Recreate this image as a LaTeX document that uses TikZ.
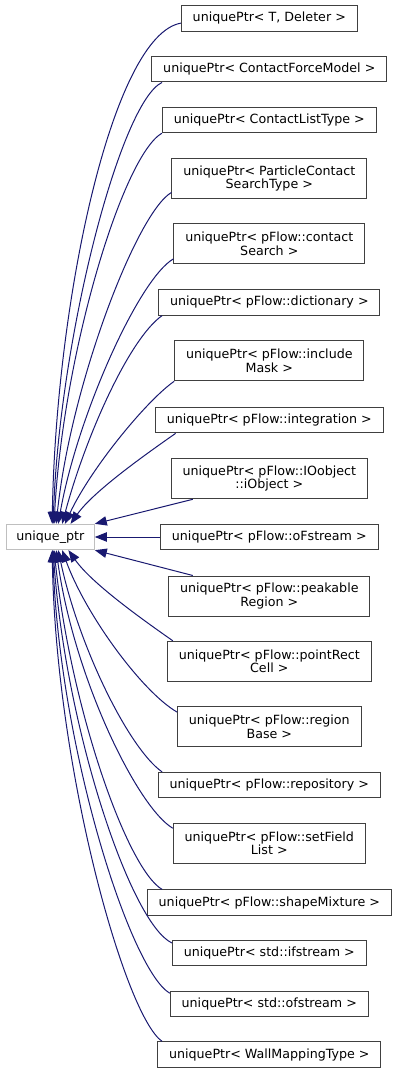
\documentclass[tikz,border=0pt]{standalone}
\usepackage{fontspec}
\setmainfont{DejaVu Sans}
\usetikzlibrary{arrows.meta}
\definecolor{edgeblue}{RGB}{25,25,112}
\definecolor{boxline}{RGB}{64,64,64}

\begin{document}
\begin{tikzpicture}[x=0.75pt, y=0.75pt, >={Triangle[length=9pt,width=7pt]},
  cls/.style={draw=boxline, line width=0.75pt, fill=white, inner xsep=8.5pt, inner ysep=0pt,
              minimum height=19pt, align=center, font=\fontsize{9.5}{10}\selectfont},
  dcls/.style={cls, minimum height=30pt},
  basecls/.style={cls, draw=black!25, inner xsep=7.5pt},
  inh/.style={->, draw=edgeblue, line width=0.75pt}]
  \useasboundingbox (0,0) rectangle (400,-1073);
  % base class
  \node[basecls] (uptr) at (50.3,-537) {unique\_ptr};
  % derived classes, upper half
  \node[cls]  (tdel)    at (269.3,-18.5)  {uniquePtr< T, Deleter >};
  \node[cls]  (cfm)     at (269.3,-69.3)  {uniquePtr< ContactForceModel >};
  \node[cls]  (clt)     at (269.3,-120)   {uniquePtr< ContactListType >};
  \node[dcls] (pcst)    at (269.3,-178.7) {uniquePtr< ParticleContact\\SearchType >};
  \node[dcls] (csearch) at (269.3,-243.7) {uniquePtr< pFlow::contact\\Search >};
  \node[cls]  (dict)    at (269.3,-302.5) {uniquePtr< pFlow::dictionary >};
  \node[dcls] (imask)   at (269.3,-360.8) {uniquePtr< pFlow::include\\Mask >};
  \node[cls]  (integ)   at (269.3,-420.2) {uniquePtr< pFlow::integration >};
  \node[dcls] (iobj)    at (269.3,-478.8) {uniquePtr< pFlow::IOobject\\::iObject >};
  \node[cls]  (ofs)     at (269.3,-537)   {uniquePtr< pFlow::oFstream >};
  % derived classes, lower half
  \node[dcls] (peak)    at (269.3,-596)   {uniquePtr< pFlow::peakable\\Region >};
  \node[dcls] (prcell)  at (269.3,-661.3) {uniquePtr< pFlow::pointRect\\Cell >};
  \node[dcls] (rbase)   at (269.3,-726.7) {uniquePtr< pFlow::region\\Base >};
  \node[cls]  (repo)    at (269.3,-785)   {uniquePtr< pFlow::repository >};
  \node[dcls] (sfl)     at (269.3,-843.5) {uniquePtr< pFlow::setField\\List >};
  \node[cls]  (smix)    at (269.3,-902.5) {uniquePtr< pFlow::shapeMixture >};
  \node[cls]  (ifs)     at (269.3,-953.2) {uniquePtr< std::ifstream >};
  \node[cls]  (stdofs)  at (269.3,-1003.7) {uniquePtr< std::ofstream >};
  \node[cls]  (wmt)     at (269.3,-1054.5) {uniquePtr< WallMappingType >};
  % inheritance arrows into the top of the base
  \draw[inh] (tdel.183)       to[out=190,in=89,out distance=52pt,in distance=169pt] (uptr.82);
  \draw[inh] (cfm.187)        to[out=205,in=88,out distance=34pt,in distance=142pt] (uptr.78);
  \draw[inh] (clt.south west) to[out=210,in=87,out distance=34pt,in distance=128pt] (uptr.74);
  \draw[inh] (pcst.188)       to[out=210,in=84,out distance=30pt,in distance=105pt] (uptr.66);
  \draw[inh] (csearch.189)    to[out=210,in=80,out distance=30pt,in distance=82pt] (uptr.59);
  \draw[inh] (dict.187)       to[out=215,in=75,out distance=30pt,in distance=68pt] (uptr.48);
  \draw[inh] (imask.south west) to[out=215,in=65,out distance=26pt,in distance=45pt] (uptr.42);
  \draw[inh] (integ.188)      to[out=215,in=55,out distance=26pt,in distance=30pt] (uptr.33);
  \draw[inh] (iobj.195) -- (uptr.north east);
  \draw[inh] (ofs.west) -- (uptr.east);
  % inheritance arrows into the bottom of the base
  \draw[inh] (peak.165) -- (uptr.south east);
  \draw[inh] (prcell.168) to[out=145,in=-55,out distance=30pt,in distance=30pt] (uptr.-36);
  \draw[inh] (rbase.171)  to[out=150,in=-70,out distance=30pt,in distance=52pt] (uptr.-48);
  \draw[inh] (repo.173)   to[out=145,in=-78,out distance=30pt,in distance=75pt] (uptr.-59);
  \draw[inh] (sfl.171)    to[out=150,in=-82,out distance=30pt,in distance=98pt] (uptr.-66);
  \draw[inh] (smix.173)   to[out=150,in=-84,out distance=30pt,in distance=120pt] (uptr.-74);
  \draw[inh] (ifs.174)    to[out=155,in=-86,out distance=34pt,in distance=135pt] (uptr.-78);
  \draw[inh] (stdofs.174) to[out=150,in=-88,out distance=34pt,in distance=150pt] (uptr.-80);
  \draw[inh] (wmt.173)    to[out=145,in=-89,out distance=34pt,in distance=165pt] (uptr.-82);
\end{tikzpicture}
\end{document}
